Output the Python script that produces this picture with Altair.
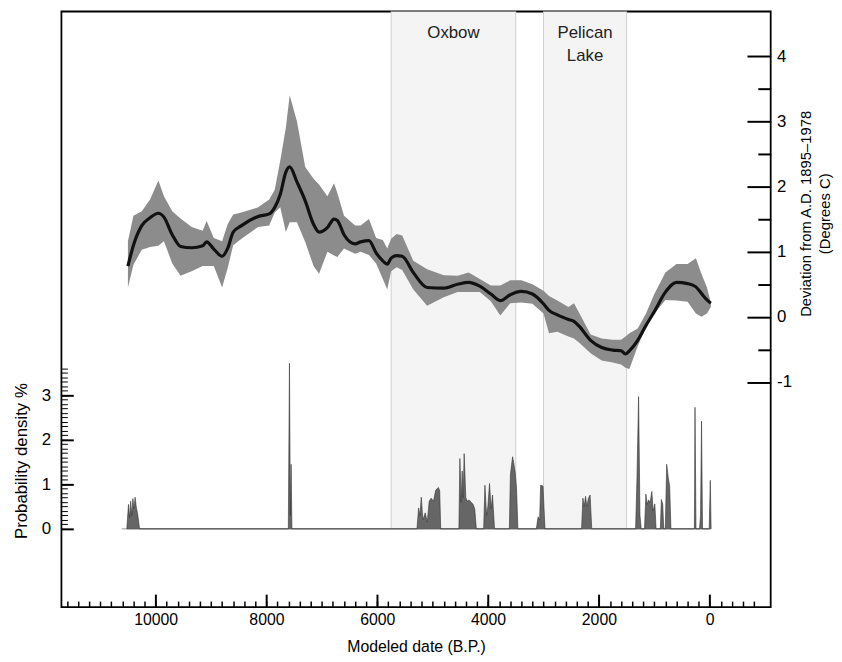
import altair as alt
import pandas as pd

# ---------------- data ----------------
# temperature reconstruction (years B.P.), mean and envelope (deg C)
temp_year = [10500, 10400, 10250, 10100, 9950, 9850, 9700, 9550, 9350, 9150, 9080, 8950, 8800, 8700, 8600,
             8450, 8150, 7950, 7850, 7750, 7650, 7580, 7450, 7300, 7150, 7050, 6900, 6780, 6720, 6600,
             6400, 6300, 6150, 6020, 5900, 5820, 5750, 5650, 5550, 5350, 5100, 4800, 4550, 4350, 4150,
             3950, 3780, 3600, 3400, 3200, 3000, 2900, 2750, 2550, 2450, 2350, 2150, 1950, 1750, 1600,
             1520, 1450, 1300, 1150, 1000, 800, 600, 400, 250, 150, 50, -20]
temp_mean = [0.78, 1.10, 1.40, 1.52, 1.59, 1.53, 1.26, 1.08, 1.06, 1.09, 1.15, 1.04, 0.93, 1.05, 1.30,
             1.40, 1.54, 1.58, 1.68, 1.88, 2.22, 2.30, 2.07, 1.78, 1.42, 1.30, 1.37, 1.50, 1.48, 1.26,
             1.12, 1.15, 1.17, 0.98, 0.86, 0.81, 0.90, 0.94, 0.93, 0.68, 0.45, 0.44, 0.50, 0.53, 0.47,
             0.35, 0.25, 0.34, 0.39, 0.35, 0.20, 0.10, 0.03, -0.04, -0.07, -0.15, -0.36, -0.47, -0.51, -0.52,
             -0.57, -0.52, -0.36, -0.13, 0.08, 0.38, 0.53, 0.51, 0.46, 0.36, 0.26, 0.21]
temp_hi = [1.16, 1.55, 1.62, 1.80, 2.09, 1.85, 1.62, 1.51, 1.38, 1.32, 1.47, 1.21, 1.16, 1.42, 1.57,
           1.60, 1.68, 1.80, 1.95, 2.40, 2.90, 3.40, 3.00, 2.30, 2.12, 2.03, 1.85, 2.05, 1.90, 1.55,
           1.40, 1.40, 1.50, 1.21, 1.18, 1.05, 1.20, 1.27, 1.25, 0.86, 0.73, 0.64, 0.63, 0.68, 0.58,
           0.48, 0.48, 0.56, 0.56, 0.50, 0.40, 0.32, 0.25, 0.15, 0.21, 0.05, -0.27, -0.33, -0.35, -0.35,
           -0.30, -0.25, -0.18, 0.05, 0.35, 0.68, 0.81, 0.81, 0.90, 0.66, 0.45, 0.22]
temp_lo = [0.45, 0.80, 1.03, 1.07, 1.09, 1.16, 0.82, 0.63, 0.70, 0.78, 0.78, 0.78, 0.45, 0.75, 1.10,
           1.20, 1.38, 1.40, 1.60, 1.68, 1.30, 1.45, 1.45, 1.15, 0.78, 0.66, 1.00, 0.94, 0.92, 1.05,
           0.97, 1.00, 0.95, 0.82, 0.58, 0.42, 0.70, 0.76, 0.72, 0.42, 0.17, 0.30, 0.38, 0.38, 0.38,
           0.24, 0.02, 0.21, 0.22, 0.20, 0.05, -0.25, -0.23, -0.30, -0.33, -0.40, -0.56, -0.67, -0.70, -0.73,
           -0.78, -0.80, -0.45, -0.16, 0.05, 0.26, 0.25, 0.23, 0.05, 0.00, 0.05, 0.15]

# probability density of modeled dates (%)
prob_year = [10520, 10490, 10470, 10450, 10430, 10410, 10390, 10370, 10350, 10320, 10290,
             7605, 7585, 7568, 7555, 7540,
             5284, 5254, 5230, 5206, 5177, 5134, 5098, 5063, 5027, 4986, 4945, 4896, 4873, 4855,
             4527, 4509, 4486, 4468, 4450, 4432, 4402, 4373, 4343, 4307, 4271, 4241, 4212,
             4080, 4057, 4027, 4004, 3974, 3945, 3920, 3884,
             3616, 3598, 3575, 3557, 3534, 3509, 3486, 3462,
             3129, 3098, 3070, 3052, 3009, 2973,
             2313, 2289, 2266, 2241, 2218, 2188, 2159, 2129,
             1338, 1313, 1284, 1259, 1236,
             1177, 1152, 1129, 1105, 1075, 1045, 1021, 991, 968,
             891, 873, 848, 830, 802, 777, 748, 723, 700,
             277, 266, 248, 184, 166, 148, 130, 10, -10, -25]
prob_val = [0, 0.55, 0.25, 0.62, 0.30, 0.68, 0.45, 0.71, 0.50, 0.30, 0,
            0, 3.72, 0.30, 1.45, 0,
            0, 0.47, 0.30, 0.71, 0.20, 0.36, 0.15, 0.62, 0.69, 0.62, 0.87, 0.93, 0.85, 0,
            0, 1.58, 0.60, 1.30, 0.70, 1.69, 0.70, 0.62, 0.65, 0.60, 0.55, 0.45, 0,
            0, 0.98, 0.30, 0.50, 1.02, 0.45, 0.76, 0,
            0, 1.20, 1.45, 1.62, 1.45, 1.25, 0.90, 0,
            0, 0.27, 0.20, 0.98, 0.96, 0,
            0, 0.69, 0.50, 0.73, 0.50, 0.69, 0.76, 0,
            0, 1.15, 2.97, 0.30, 0,
            0, 0.78, 0.55, 0.65, 0.60, 0.84, 0.40, 0.56, 0,
            0, 0.66, 0.55, 0, 0, 1.45, 1.15, 0.95, 0,
            0, 2.73, 0, 0, 0.30, 2.42, 0, 0, 1.09, 0]
baseline_start = [10610]
baseline_end = [0]

# cultural complexes
band_names = ["Oxbow", "Pelican\nLake"]
band_start = [5750, 3000]
band_end = [3500, 1500]

# axis tick values
x_major = [10000, 8000, 6000, 4000, 2000, 0]
x_minor = list(range(11600, -1000, -200))
temp_major = [-1, 0, 1, 2, 3, 4]
temp_minor = [-0.5, 0.5, 1.5, 2.5, 3.5]
prob_major = [0, 1, 2, 3]
prob_minor = [round(0.1 * i, 1) for i in range(0, 37)]

assert len(temp_year) == len(temp_mean) == len(temp_hi) == len(temp_lo)
assert len(prob_year) == len(prob_val)

temp_df = pd.DataFrame({"year": temp_year, "mean": temp_mean, "hi": temp_hi, "lo": temp_lo})
prob_df = pd.DataFrame({"year": prob_year, "p": prob_val})
band_df = pd.DataFrame({"name": band_names, "start": band_start, "end": band_end})
edge_df = pd.DataFrame({"edge": band_start + band_end})
base_df = pd.DataFrame({"start": baseline_start, "end": baseline_end})
dummy = pd.DataFrame({"v": [0.0]})

# ---------------- layout ----------------
W, H = 717, 602
PROB_TOP = 11.62
XS = alt.Scale(domain=[11700, -1100], nice=False, zero=False)
TS = alt.Scale(domain=[-4.451, 4.684], nice=False, zero=False)
PS = alt.Scale(domain=[-1.756, PROB_TOP], nice=False, zero=False)
FONT = "'Liberation Sans', Arial, sans-serif"

bands = alt.Chart(band_df).mark_rect(fill="#f4f4f4").encode(
    x=alt.X("start:Q", scale=XS, axis=None), x2="end:Q",
    y=alt.YDatum(PROB_TOP, scale=PS, axis=None), y2=alt.Y2Datum(0))

edges = alt.Chart(edge_df).mark_rule(color="#cfcfcf", strokeWidth=1).encode(
    x=alt.X("edge:Q", scale=XS, axis=None),
    y=alt.YDatum(PROB_TOP, scale=PS, axis=None), y2=alt.Y2Datum(0))

labels = alt.Chart(band_df).transform_calculate(
    mid="(datum.start + datum.end) / 2").mark_text(
    font=FONT, fontSize=17, baseline="top", lineBreak="\n", lineHeight=23, color="#222").encode(
    x=alt.X("mid:Q", scale=XS, axis=None), y=alt.value(14), text="name:N")

temp_band = alt.Chart(temp_df).mark_area(color="#8c8c8c").encode(
    x=alt.X("year:Q", scale=XS, axis=None),
    y=alt.Y("hi:Q", scale=TS, axis=None), y2="lo:Q")

temp_line = alt.Chart(temp_df).mark_line(color="#111111", strokeWidth=3.2,
                                         interpolate="monotone").encode(
    x=alt.X("year:Q", scale=XS, axis=None),
    y=alt.Y("mean:Q", scale=TS, axis=None))

baseline = alt.Chart(base_df).mark_rule(color="#9a9a9a", strokeWidth=1).encode(
    x=alt.X("start:Q", scale=XS, axis=None), x2="end:Q",
    y=alt.YDatum(0, scale=PS, axis=None))

spikes = alt.Chart(prob_df).mark_area(color="#666666", stroke="#333333", strokeWidth=0.6).encode(
    x=alt.X("year:Q", scale=XS, axis=None),
    y=alt.Y("p:Q", scale=PS, axis=None))


def y_axis_layer(scale, **kw):
    return alt.Chart(dummy).mark_point(opacity=0).encode(
        y=alt.Y("v:Q", scale=scale, axis=alt.Axis(grid=False, domain=False, **kw)))


def x_axis_layer(**kw):
    return alt.Chart(dummy).mark_point(opacity=0).encode(
        x=alt.X("v:Q", scale=XS, axis=alt.Axis(grid=False, domain=False, **kw)))


tick_only = dict(labels=False, ticks=True, tickColor="#000", title=None)

ax_temp_labels = y_axis_layer(
    TS, orient="right", values=temp_major, ticks=False, labelPadding=6,
    labelExpr="datum.value + ''", labelFont=FONT, labelFontSize=17, labelColor="#000",
    title=["Deviation from  A.D. 1895\u20131978", "(Degrees C)"], titleFont=FONT, titleFontSize=15,
    titleFontWeight="normal", titleColor="#000", titleAngle=270, titleX=28, titleY=204,
    titleBaseline="top", titleAlign="center", titleLineHeight=19)
ax_temp_major = y_axis_layer(TS, orient="left", offset=-W, values=temp_major, tickSize=24,
                             tickWidth=2, **tick_only)
ax_temp_minor = y_axis_layer(TS, orient="left", offset=-W, values=temp_minor, tickSize=13,
                             tickWidth=2, **tick_only)

ax_prob_labels = y_axis_layer(
    PS, orient="left", values=prob_major, ticks=False, labelPadding=11,
    labelExpr="datum.value + ''", labelFont=FONT, labelFontSize=17, labelColor="#000",
    title="Probability density %", titleFont=FONT, titleFontSize=17, titleFontWeight="normal",
    titleColor="#000", titleAngle=270, titleX=-40, titleY=454, titleBaseline="middle",
    titleAlign="center")
ax_prob_major = y_axis_layer(PS, orient="right", offset=-W, values=prob_major, tickSize=12,
                             tickWidth=2, **tick_only)
ax_prob_minor = y_axis_layer(PS, orient="right", offset=-W, values=prob_minor, tickSize=6,
                             tickWidth=1, **tick_only)

ax_x_labels = x_axis_layer(
    orient="bottom", values=x_major, ticks=False, labelPadding=5, format="d",
    labelFont=FONT, labelFontSize=16, labelColor="#000",
    title="Modeled date (B.P.)", titleFont=FONT, titleFontSize=16, titleFontWeight="normal",
    titleColor="#000", titleY=32, titleBaseline="top")
ax_x_major = x_axis_layer(orient="top", offset=-H, values=x_major, tickSize=13, tickWidth=2,
                          **tick_only)
ax_x_minor = x_axis_layer(orient="top", offset=-H, values=x_minor, tickSize=6, tickWidth=1.5,
                          **tick_only)

chart = alt.layer(
    bands, edges, labels, temp_band, temp_line, baseline, spikes,
    ax_temp_labels, ax_temp_major, ax_temp_minor,
    ax_prob_labels, ax_prob_major, ax_prob_minor,
    ax_x_labels, ax_x_major, ax_x_minor,
).resolve_scale(y="independent").resolve_axis(x="independent", y="independent").properties(
    width=W, height=H,
    padding={"left": 54, "top": 0, "right": 64, "bottom": 50},
    autosize=alt.AutoSizeParams(type="none"),
).configure_view(stroke="#000", strokeWidth=1.8)

chart.save("out.html", embed_options={"renderer": "svg", "actions": False})
